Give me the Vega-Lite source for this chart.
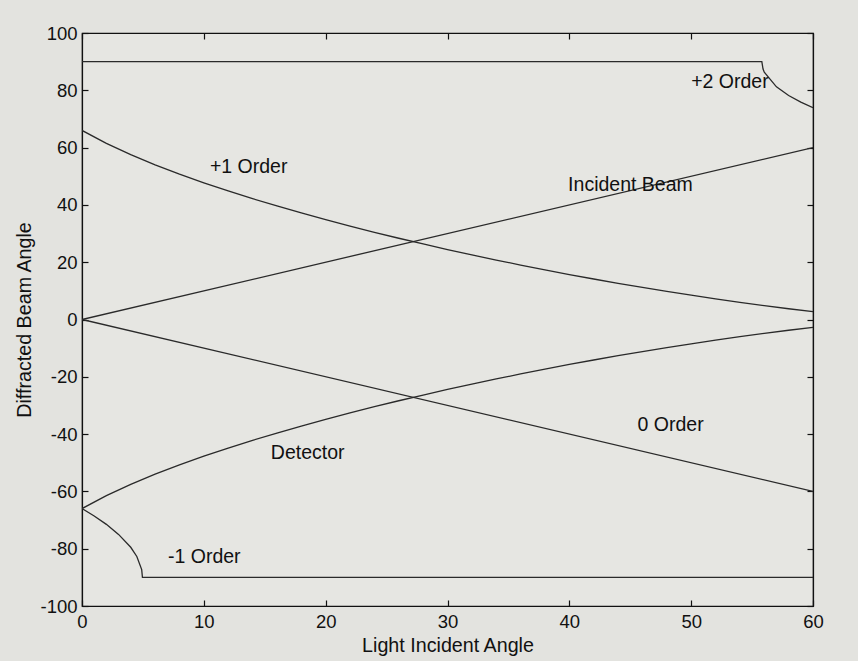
{
  "$schema": "https://vega.github.io/schema/vega-lite/v6.json",
  "width": 731,
  "height": 573,
  "autosize": {"type": "none"},
  "padding": {"left": 82, "top": 33, "right": 45, "bottom": 55},
  "background": "#e3e3df",
  "config": {
    "font": "Liberation Sans",
    "view": {"stroke": "#111111", "strokeWidth": 1.2, "fill": "#e6e6e2"},
    "axis": {
      "grid": false,
      "domainColor": "#111111",
      "domainWidth": 1.2,
      "tickColor": "#111111",
      "tickSize": -6,
      "tickWidth": 1.2,
      "labelFont": "Liberation Sans",
      "labelFontSize": 18.5,
      "labelColor": "#111111",
      "labelFlush": false,
      "labelOverlap": false,
      "labelExpr": "'' + datum.value",
      "titleFont": "Liberation Sans",
      "titleFontSize": 19.7,
      "titleFontWeight": "normal",
      "titleColor": "#111111"
    }
  },
  "datasets": {
    "curves": [
      {"beam": "Incident Beam", "angle": 0, "diffracted": 0},
      {"beam": "Incident Beam", "angle": 60, "diffracted": 60},
      {"beam": "0 Order", "angle": 0, "diffracted": 0},
      {"beam": "0 Order", "angle": 60, "diffracted": -60},
      {"beam": "+1 Order", "angle": 0, "diffracted": 66.0},
      {"beam": "+1 Order", "angle": 2, "diffracted": 61.47},
      {"beam": "+1 Order", "angle": 4, "diffracted": 57.53},
      {"beam": "+1 Order", "angle": 6, "diffracted": 54.0},
      {"beam": "+1 Order", "angle": 8, "diffracted": 50.74},
      {"beam": "+1 Order", "angle": 10, "diffracted": 47.72},
      {"beam": "+1 Order", "angle": 12, "diffracted": 44.88},
      {"beam": "+1 Order", "angle": 14, "diffracted": 42.19},
      {"beam": "+1 Order", "angle": 16, "diffracted": 39.64},
      {"beam": "+1 Order", "angle": 18, "diffracted": 37.19},
      {"beam": "+1 Order", "angle": 20, "diffracted": 34.86},
      {"beam": "+1 Order", "angle": 22, "diffracted": 32.61},
      {"beam": "+1 Order", "angle": 24, "diffracted": 30.45},
      {"beam": "+1 Order", "angle": 26, "diffracted": 28.36},
      {"beam": "+1 Order", "angle": 28, "diffracted": 26.36},
      {"beam": "+1 Order", "angle": 30, "diffracted": 24.42},
      {"beam": "+1 Order", "angle": 32, "diffracted": 22.56},
      {"beam": "+1 Order", "angle": 34, "diffracted": 20.75},
      {"beam": "+1 Order", "angle": 36, "diffracted": 19.01},
      {"beam": "+1 Order", "angle": 38, "diffracted": 17.33},
      {"beam": "+1 Order", "angle": 40, "diffracted": 15.70},
      {"beam": "+1 Order", "angle": 42, "diffracted": 14.14},
      {"beam": "+1 Order", "angle": 44, "diffracted": 12.64},
      {"beam": "+1 Order", "angle": 46, "diffracted": 11.20},
      {"beam": "+1 Order", "angle": 48, "diffracted": 9.81},
      {"beam": "+1 Order", "angle": 50, "diffracted": 8.48},
      {"beam": "+1 Order", "angle": 52, "diffracted": 7.21},
      {"beam": "+1 Order", "angle": 54, "diffracted": 6.00},
      {"beam": "+1 Order", "angle": 56, "diffracted": 4.85},
      {"beam": "+1 Order", "angle": 58, "diffracted": 3.75},
      {"beam": "+1 Order", "angle": 60, "diffracted": 2.72},
      {"beam": "Detector", "angle": 0, "diffracted": -66.0},
      {"beam": "Detector", "angle": 2, "diffracted": -61.47},
      {"beam": "Detector", "angle": 4, "diffracted": -57.53},
      {"beam": "Detector", "angle": 6, "diffracted": -54.0},
      {"beam": "Detector", "angle": 8, "diffracted": -50.74},
      {"beam": "Detector", "angle": 10, "diffracted": -47.72},
      {"beam": "Detector", "angle": 12, "diffracted": -44.88},
      {"beam": "Detector", "angle": 14, "diffracted": -42.19},
      {"beam": "Detector", "angle": 16, "diffracted": -39.64},
      {"beam": "Detector", "angle": 18, "diffracted": -37.19},
      {"beam": "Detector", "angle": 20, "diffracted": -34.86},
      {"beam": "Detector", "angle": 22, "diffracted": -32.61},
      {"beam": "Detector", "angle": 24, "diffracted": -30.45},
      {"beam": "Detector", "angle": 26, "diffracted": -28.36},
      {"beam": "Detector", "angle": 28, "diffracted": -26.36},
      {"beam": "Detector", "angle": 30, "diffracted": -24.42},
      {"beam": "Detector", "angle": 32, "diffracted": -22.56},
      {"beam": "Detector", "angle": 34, "diffracted": -20.75},
      {"beam": "Detector", "angle": 36, "diffracted": -19.01},
      {"beam": "Detector", "angle": 38, "diffracted": -17.33},
      {"beam": "Detector", "angle": 40, "diffracted": -15.70},
      {"beam": "Detector", "angle": 42, "diffracted": -14.14},
      {"beam": "Detector", "angle": 44, "diffracted": -12.64},
      {"beam": "Detector", "angle": 46, "diffracted": -11.20},
      {"beam": "Detector", "angle": 48, "diffracted": -9.81},
      {"beam": "Detector", "angle": 50, "diffracted": -8.48},
      {"beam": "Detector", "angle": 52, "diffracted": -7.21},
      {"beam": "Detector", "angle": 54, "diffracted": -6.00},
      {"beam": "Detector", "angle": 56, "diffracted": -4.85},
      {"beam": "Detector", "angle": 58, "diffracted": -3.75},
      {"beam": "Detector", "angle": 60, "diffracted": -2.72},
      {"beam": "-1 Order", "angle": 0, "diffracted": -66.0},
      {"beam": "-1 Order", "angle": 1, "diffracted": -68.6},
      {"beam": "-1 Order", "angle": 2, "diffracted": -71.5},
      {"beam": "-1 Order", "angle": 3, "diffracted": -75.0},
      {"beam": "-1 Order", "angle": 4, "diffracted": -79.5},
      {"beam": "-1 Order", "angle": 4.5, "diffracted": -82.7},
      {"beam": "-1 Order", "angle": 4.9, "diffracted": -87.3},
      {"beam": "-1 Order", "angle": 4.96, "diffracted": -90},
      {"beam": "-1 Order", "angle": 60, "diffracted": -90},
      {"beam": "+2 Order", "angle": 0, "diffracted": 90},
      {"beam": "+2 Order", "angle": 55.8, "diffracted": 90},
      {"beam": "+2 Order", "angle": 55.9, "diffracted": 87.4},
      {"beam": "+2 Order", "angle": 56, "diffracted": 86.3},
      {"beam": "+2 Order", "angle": 57, "diffracted": 81.2},
      {"beam": "+2 Order", "angle": 58, "diffracted": 78.2},
      {"beam": "+2 Order", "angle": 59, "diffracted": 75.9},
      {"beam": "+2 Order", "angle": 60, "diffracted": 73.9}
    ],
    "notes": [
      {"label": "+2 Order", "angle": 50.0, "diffracted": 82.9},
      {"label": "+1 Order", "angle": 10.5, "diffracted": 53.2},
      {"label": "Incident Beam", "angle": 39.9, "diffracted": 47.0},
      {"label": "0 Order", "angle": 45.6, "diffracted": -36.8},
      {"label": "Detector", "angle": 15.5, "diffracted": -46.6},
      {"label": "-1 Order", "angle": 7.06, "diffracted": -82.9}
    ]
  },
  "layer": [
    {
      "data": {"name": "curves"},
      "mark": {"type": "line", "color": "#2a2a2a", "strokeWidth": 1.3, "clip": true},
      "encoding": {
        "x": {
          "field": "angle",
          "type": "quantitative",
          "scale": {"domain": [0, 60], "nice": false, "zero": false},
          "axis": {
            "orient": "bottom",
            "values": [0, 10, 20, 30, 40, 50, 60],
            "title": "Light Incident Angle",
            "labelPadding": 12,
            "titlePadding": 5
          }
        },
        "y": {
          "field": "diffracted",
          "type": "quantitative",
          "scale": {"domain": [-100, 100], "nice": false, "zero": false},
          "axis": {
            "orient": "left",
            "values": [-100, -80, -60, -40, -20, 0, 20, 40, 60, 80, 100],
            "title": "Diffracted Beam Angle",
            "labelPadding": 11,
            "titlePadding": 5
          }
        },
        "detail": {"field": "beam"}
      }
    },
    {
      "data": {"name": "notes"},
      "mark": {"type": "text", "align": "left", "baseline": "middle", "font": "Liberation Sans", "fontSize": 19.5, "color": "#111111"},
      "encoding": {
        "x": {
          "field": "angle",
          "type": "quantitative",
          "axis": {"orient": "top", "values": [0, 10, 20, 30, 40, 50, 60], "labels": false, "title": null}
        },
        "y": {
          "field": "diffracted",
          "type": "quantitative",
          "axis": {"orient": "right", "values": [-100, -80, -60, -40, -20, 0, 20, 40, 60, 80, 100], "labels": false, "title": null}
        },
        "text": {"field": "label"}
      }
    }
  ],
  "resolve": {"axis": {"x": "independent", "y": "independent"}}
}
